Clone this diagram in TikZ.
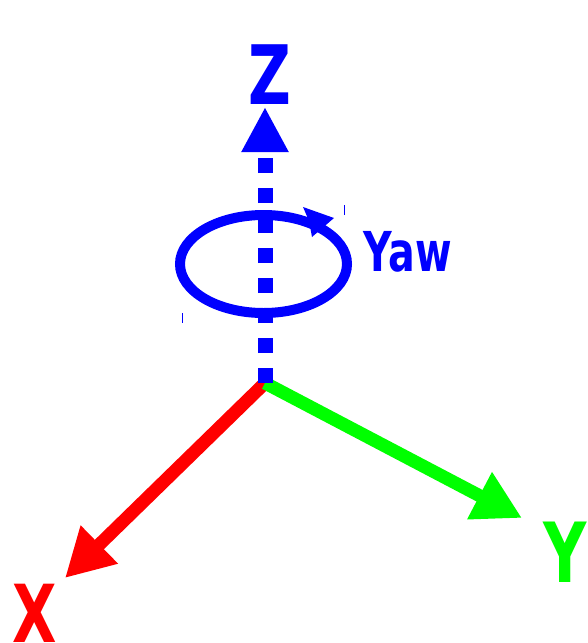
\documentclass[tikz,border=0pt]{standalone}
\usepackage{fontspec}
\setmainfont{DejaVu Sans}
\usetikzlibrary{arrows.meta}
\definecolor{pblue}{RGB}{0,0,255}
\definecolor{pred}{RGB}{255,0,0}
\definecolor{pgreen}{RGB}{0,255,0}
\begin{document}
\begin{tikzpicture}[x=1pt,y=-1pt,
  lbl/.style={inner sep=0pt, font=\bfseries, xscale=0.72},
  axis/.style={line width=13pt, -{Triangle[length=48pt,width=50pt]}}]
\useasboundingbox (0,0) rectangle (587,643);
% origin and axis end points
\coordinate (O) at (265,383);
\coordinate (Ztip) at (265,107);
\coordinate (Xtip) at (65,578);
\coordinate (Ytip) at (522,518);
% labels
\node[lbl, text=pblue, font=\bfseries\fontsize{82}{82}\selectfont] (Z) at (270,75) {Z};
\node[lbl, text=pblue, font=\bfseries\fontsize{55}{55}\selectfont] (yaw) at (408,252) {Yaw};
\node[lbl, text=pred, font=\bfseries\fontsize{80}{80}\selectfont] (X) at (35,613) {X};
\node[lbl, text=pgreen, font=\bfseries\fontsize{83}{83}\selectfont] (Y) at (565,552) {Y};
% axes
\draw[axis, pred] (O) -- (Xtip);
\draw[axis, pgreen] (O) -- (Ytip);
\draw[pblue, line width=15pt, dash pattern=on 15pt off 15pt,
  -{Triangle[length=45pt,width=44pt]}] (O) -- (Ztip);
% yaw ellipse
\draw[pblue, line width=10pt] (263.5,264) ellipse [x radius=83.5, y radius=49];
\fill[pblue] (303,207) -- (334,218) -- (312,237) -- (309,221) -- cycle;
% small ticks
\draw[pblue, line width=1pt] (344,205) -- (344,215);
\draw[pblue, line width=1pt] (182,313) -- (182,323);
\end{tikzpicture}
\end{document}
